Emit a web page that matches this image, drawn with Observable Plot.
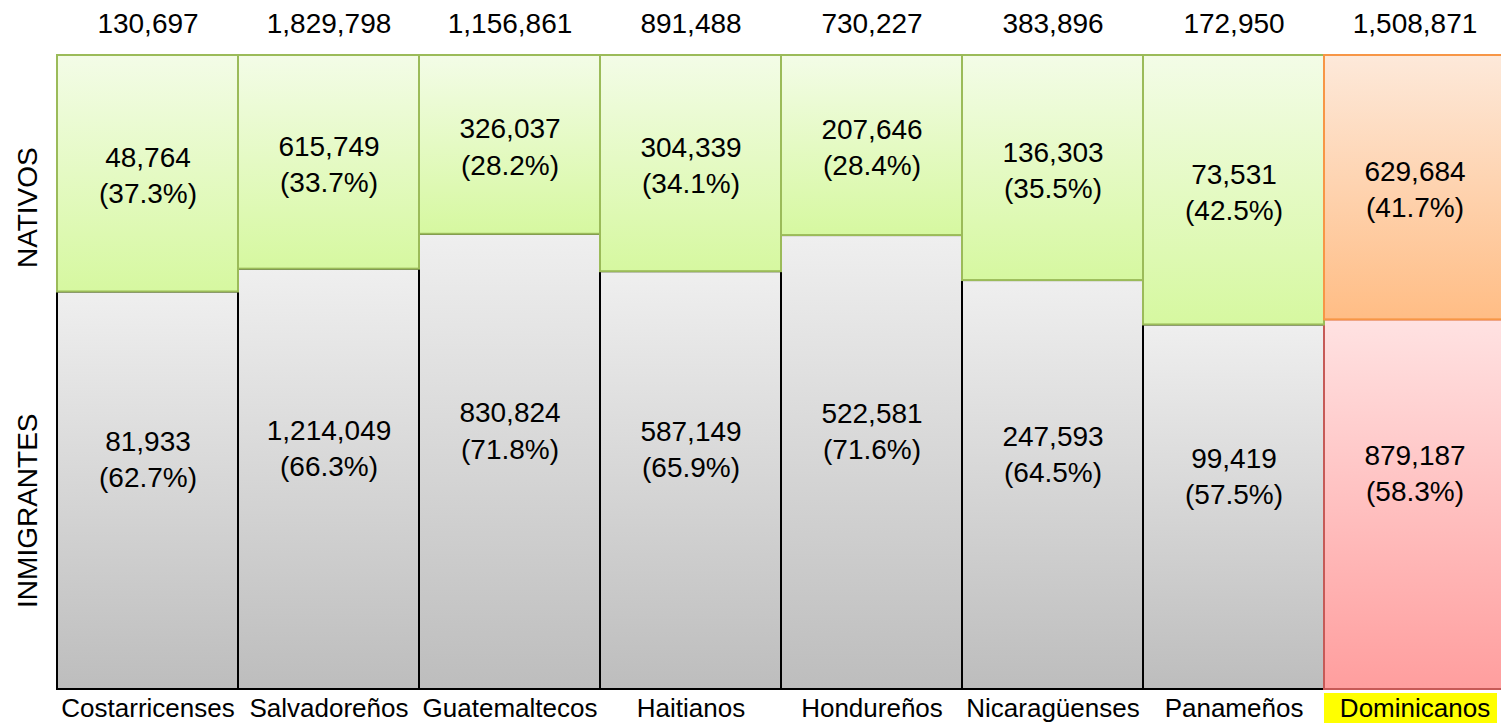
<!DOCTYPE html>
<html><head><meta charset="utf-8">
<script src="https://cdn.jsdelivr.net/npm/d3@7"></script>
<script src="https://cdn.jsdelivr.net/npm/@observablehq/plot@0.6"></script>
<style>html,body{margin:0;padding:0;background:#fff;overflow:hidden}</style>
</head><body><div id="chart"></div>
<script>
const categories = ["Costarricenses","Salvadoreños","Guatemaltecos","Haitianos","Hondureños","Nicaragüenses","Panameños","Dominicanos"];
const totals = [130697,1829798,1156861,891488,730227,383896,172950,1508871];
const natives = [48764,615749,326037,304339,207646,136303,73531,629684];
const immigrants = [81933,1214049,830824,587149,522581,247593,99419,879187];
const nativePct = [37.3,33.7,28.2,34.1,28.4,35.5,42.5,41.7];
const immigrantPct = [62.7,66.3,71.8,65.9,71.6,64.5,57.5,58.3];
const highlight = "Dominicanos";
const rowLabels = ["NATIVOS","INMIGRANTES"];

const fmt = d3.format(",");
const W = 1501, H = 723;

const immRows = [], natRows = [];
categories.forEach((c, i) => {
  const dom = c === highlight;
  const split = immigrantPct[i] / 100;
  immRows.push({cat: c, y1: 0, y2: split,
    fill: dom ? "url(#gDomImm)" : "url(#gImm)",
    stroke: dom ? "#c65a57" : "#000000",
    label: fmt(immigrants[i]) + "\n(" + immigrantPct[i].toFixed(1) + "%)"});
  natRows.push({cat: c, y1: split, y2: 1,
    fill: dom ? "url(#gDomNat)" : "url(#gNat)",
    stroke: dom ? "#f79646" : "#9bbb59",
    label: fmt(natives[i]) + "\n(" + nativePct[i].toFixed(1) + "%)"});
});

const yellowBox = (index, scales, values, dims) => {
  const x = scales.x;
  const x0 = x(highlight);
  const bw = x.bandwidth ? x.bandwidth() : (dims.width - dims.marginLeft) / categories.length;
  return d3.create("svg:rect")
    .attr("x", x0).attr("y", dims.height - 30)
    .attr("width", bw - 8).attr("height", 30)
    .attr("fill", "#ffff00").node();
};

const chart = Plot.plot({
  width: W, height: H,
  marginTop: 55, marginBottom: 34, marginLeft: 55, marginRight: 0,
  style: {fontFamily: "Helvetica, 'Liberation Sans', Arial, sans-serif", fontSize: "28px", color: "#000", background: "#fff"},
  x: {domain: categories, range: [55, 1507], padding: 0, axis: null},
  y: {domain: [0, 1], axis: null},
  color: {type: "identity"},
  marks: [
    Plot.barY(immRows, {x: "cat", y1: "y1", y2: "y2", fill: "fill", stroke: "stroke", strokeWidth: 2}),
    Plot.barY(natRows, {x: "cat", y1: "y1", y2: "y2", fill: "fill", stroke: "stroke", strokeWidth: 2}),
    Plot.text(immRows, {x: "cat", y: d => (d.y1 + d.y2) / 2, text: "label", dy: -33, lineHeight: 1.29, fontSize: 28}),
    Plot.text(natRows, {x: "cat", y: d => (d.y1 + d.y2) / 2, text: "label", lineHeight: 1.29, fontSize: 28}),
    Plot.text(categories, {x: d => d, frameAnchor: "top", lineAnchor: "middle", dy: -31, text: (d, i) => fmt(totals[i]), fontSize: 28}),
    yellowBox,
    Plot.text(categories, {x: d => d, frameAnchor: "bottom", lineAnchor: "middle", dy: 19, text: d => d, fontSize: 26}),
    Plot.text([rowLabels[0]], {frameAnchor: "left", y: () => 0.76, dx: -27, rotate: -90, textAnchor: "middle", text: d => d, fontSize: 28}),
    Plot.text([rowLabels[1]], {frameAnchor: "left", y: () => 0.282, dx: -27, rotate: -90, textAnchor: "middle", text: d => d, fontSize: 28})
  ]
});

const defs = d3.select(chart).insert("defs", ":first-child");
const grads = [
  ["gNat", "#f3fce7", "#d6f8a0"],
  ["gImm", "#efefef", "#bdbdbd"],
  ["gDomNat", "#fde9da", "#ffbd85"],
  ["gDomImm", "#ffe2e2", "#ff9e9e"]
];
for (const [id, c0, c1] of grads) {
  const g = defs.append("linearGradient").attr("id", id).attr("x1", 0).attr("y1", 0).attr("x2", 0).attr("y2", 1);
  g.append("stop").attr("offset", "0%").attr("stop-color", c0);
  g.append("stop").attr("offset", "100%").attr("stop-color", c1);
}
document.getElementById("chart").appendChild(chart);
</script>
</body></html>
